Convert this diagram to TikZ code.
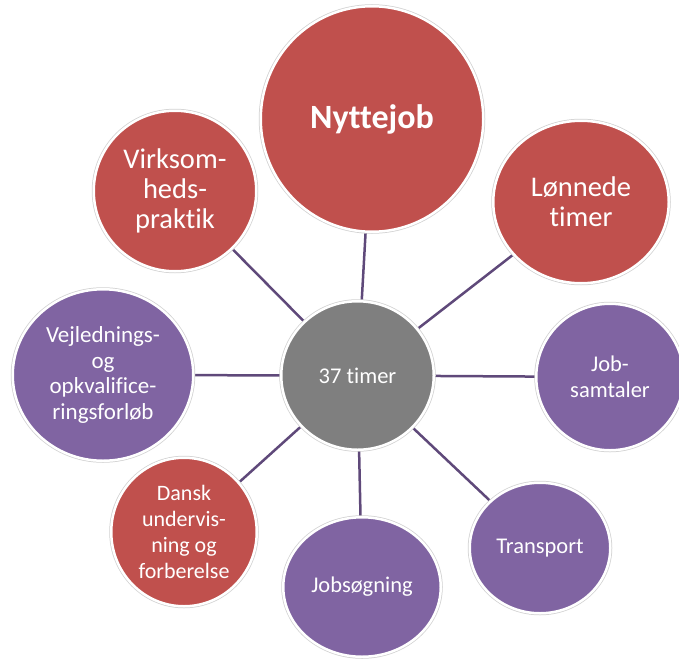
\documentclass[tikz,border=0pt]{standalone}
\usepackage{fontspec}
\setmainfont{Carlito}[Ligatures=NoCommon]
\usetikzlibrary{shapes.geometric,backgrounds}
\definecolor{bubred}{HTML}{C0504D}
\definecolor{bubpurple}{HTML}{8064A2}
\definecolor{bubgray}{HTML}{7F7F7F}
\definecolor{linkcol}{HTML}{5F497A}
\begin{document}
\begin{tikzpicture}[x=1pt,y=-1pt,
    bubble/.style={ellipse,inner sep=0pt,align=center,text=white,draw=white,line width=2.5pt,
      preaction={draw=black!18,line width=4pt}},
    redbub/.style={bubble,fill=bubred},
    purplebub/.style={bubble,fill=bubpurple},
    small/.style={font=\fontsize{22.5}{26}\selectfont},
    link/.style={draw=linkcol,line width=2.5pt}]
  \useasboundingbox (0,0) rectangle (679,661);
  \node [bubble,fill=bubgray,small,minimum width=152.5pt,minimum height=148.5pt] (c) at (357.5,375.5) {37 timer};
  \node [redbub,font=\fontsize{34}{40}\selectfont\bfseries,minimum width=222.5pt,minimum height=225.5pt] (ny) at (372,119) {Nyttejob};
  \node [redbub,font=\fontsize{28.5}{30}\selectfont,minimum width=175.5pt,minimum height=162.5pt] (lt) at (581,202) {Lønnede\\timer};
  \node [purplebub,small,minimum width=147.5pt,minimum height=146.5pt] (js) at (610,377) {Job-\\samtaler};
  \node [purplebub,small,minimum width=140.5pt,minimum height=130.5pt] (tr) at (540,548) {Transport};
  \node [purplebub,small,minimum width=157.5pt,minimum height=139.5pt] (jg) at (362,587) {Jobsøgning};
  \node [redbub,font=\fontsize{22}{26}\selectfont,minimum width=145.5pt,minimum height=148.5pt] (da) at (184,532) {Dansk\\undervis-\\ning og\\forberelse};
  \node [purplebub,font=\fontsize{23}{25.5}\selectfont,minimum width=180.5pt,minimum height=171.5pt] (ve) at (103,375) {Vejlednings-\\og\\opkvalifice-\\ringsforløb};
  \node [redbub,font=\fontsize{28.5}{30}\selectfont,minimum width=162.5pt,minimum height=160.5pt] (vi) at (175,191) {Virksom-\\heds-\\praktik};
  \begin{scope}[on background layer]
    \foreach \n in {ny,lt,js,tr,jg,da,ve,vi}
      \draw [link] (c.center) -- (\n.center);
  \end{scope}
\end{tikzpicture}
\end{document}
